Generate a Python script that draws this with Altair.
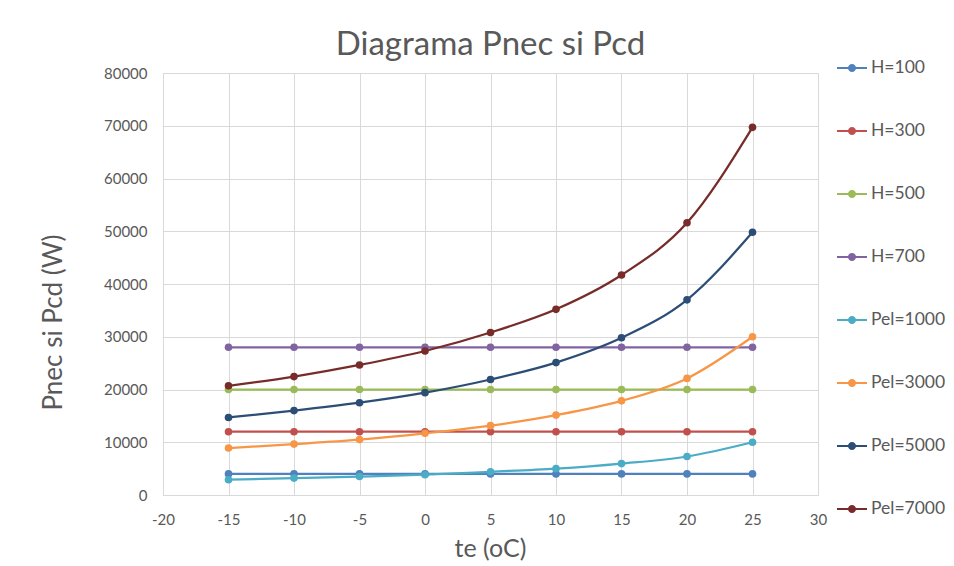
import altair as alt
import pandas as pd

te = [-15, -10, -5, 0, 5, 10, 15, 20, 25]
series_names = ["H=100", "H=300", "H=500", "H=700", "Pel=1000", "Pel=3000", "Pel=5000", "Pel=7000"]
colors = ["#4F81BD", "#C0504D", "#9BBB59", "#8064A2", "#4BACC6", "#F79646", "#2C4D75", "#772C2A"]

h100 = [4000, 4000, 4000, 4000, 4000, 4000, 4000, 4000, 4000]
h300 = [12000, 12000, 12000, 12000, 12000, 12000, 12000, 12000, 12000]
h500 = [20000, 20000, 20000, 20000, 20000, 20000, 20000, 20000, 20000]
h700 = [28000, 28000, 28000, 28000, 28000, 28000, 28000, 28000, 28000]
pel1000 = [2900, 3200, 3500, 3850, 4400, 5000, 5950, 7300, 10000]
pel3000 = [8900, 9650, 10500, 11700, 13150, 15150, 17850, 22100, 30000]
pel5000 = [14700, 16000, 17500, 19400, 21900, 25100, 29800, 37000, 49800]
pel7000 = [20700, 22450, 24650, 27300, 30800, 35200, 41700, 51600, 69700]

all_series = [h100, h300, h500, h700, pel1000, pel3000, pel5000, pel7000]

rows = []
for name, vals in zip(series_names, all_series):
    for t, v in zip(te, vals):
        rows.append({"te": t, "P": v, "serie": name})
df = pd.DataFrame(rows)

FONT = "Lato"
TXT = "#595959"
GRID = "#D9D9D9"

x_enc = alt.X("te:Q",
              scale=alt.Scale(domain=[-20, 30], nice=False, zero=False),
              axis=alt.Axis(values=list(range(-20, 31, 5)), title="te (oC)",
                            labelExpr="'' + datum.value",
                            titleX=327, titleY=53, titleBaseline="middle",
                            titleFontSize=25, titleFontWeight="normal", titleColor=TXT,
                            titleFont=FONT, labelFont=FONT, labelFontSize=15, labelColor=TXT,
                            labelPadding=17, ticks=False, domainColor=GRID,
                            gridColor=GRID, labelFlush=False))
y_enc = alt.Y("P:Q",
              scale=alt.Scale(domain=[0, 80000], nice=False),
              axis=alt.Axis(values=list(range(0, 80001, 10000)), title="Pnec si Pcd (W)",
                            titleX=-110, titleY=249, titleBaseline="middle", titleAngle=270,
                            titleFontSize=26, titleFontWeight="normal", titleColor=TXT,
                            titleFont=FONT, labelFont=FONT, labelFontSize=15, labelColor=TXT,
                            labelPadding=16, ticks=False, domain=False,
                            gridColor=GRID, format="d", labelFlush=False))

color_scale = alt.Scale(domain=series_names, range=colors)
leg = alt.Legend(title=None, orient="none", legendX=674, legendY=-20,
                 symbolType="M-1,-0.07L1,-0.07L1,0.07L-1,0.07Z M0.27,0A0.27,0.27 0 1,1 -0.27,0A0.27,0.27 0 1,1 0.27,0Z",
                 symbolSize=900, symbolStrokeWidth=0, rowPadding=39,
                 labelFont=FONT, labelFontSize=17.5, labelColor=TXT, labelOffset=4,
                 labelLimit=200)

base = alt.Chart(df)
lines = base.mark_line(interpolate="monotone", strokeWidth=2.25).encode(
    x=x_enc, y=y_enc,
    color=alt.Color("serie:N", scale=color_scale, sort=series_names, legend=leg),
)
points = base.mark_point(filled=True, size=58, opacity=1).encode(
    x=x_enc, y=y_enc,
    color=alt.Color("serie:N", scale=color_scale, sort=series_names, legend=leg),
)

chart = alt.layer(lines, points).properties(
    width=655, height=422,
    title=alt.TitleParams("Diagrama Pnec si Pcd", font=FONT, fontSize=33, fontWeight="normal",
                          color=TXT, anchor="middle", offset=14, dy=23),
    autosize=alt.AutoSizeParams(type="none"),
    padding={"left": 163, "top": 73, "right": 136, "bottom": 71},
).configure_view(stroke=GRID).configure(background="white")

chart.save("out.html", embed_options={"renderer": "svg", "actions": False})
